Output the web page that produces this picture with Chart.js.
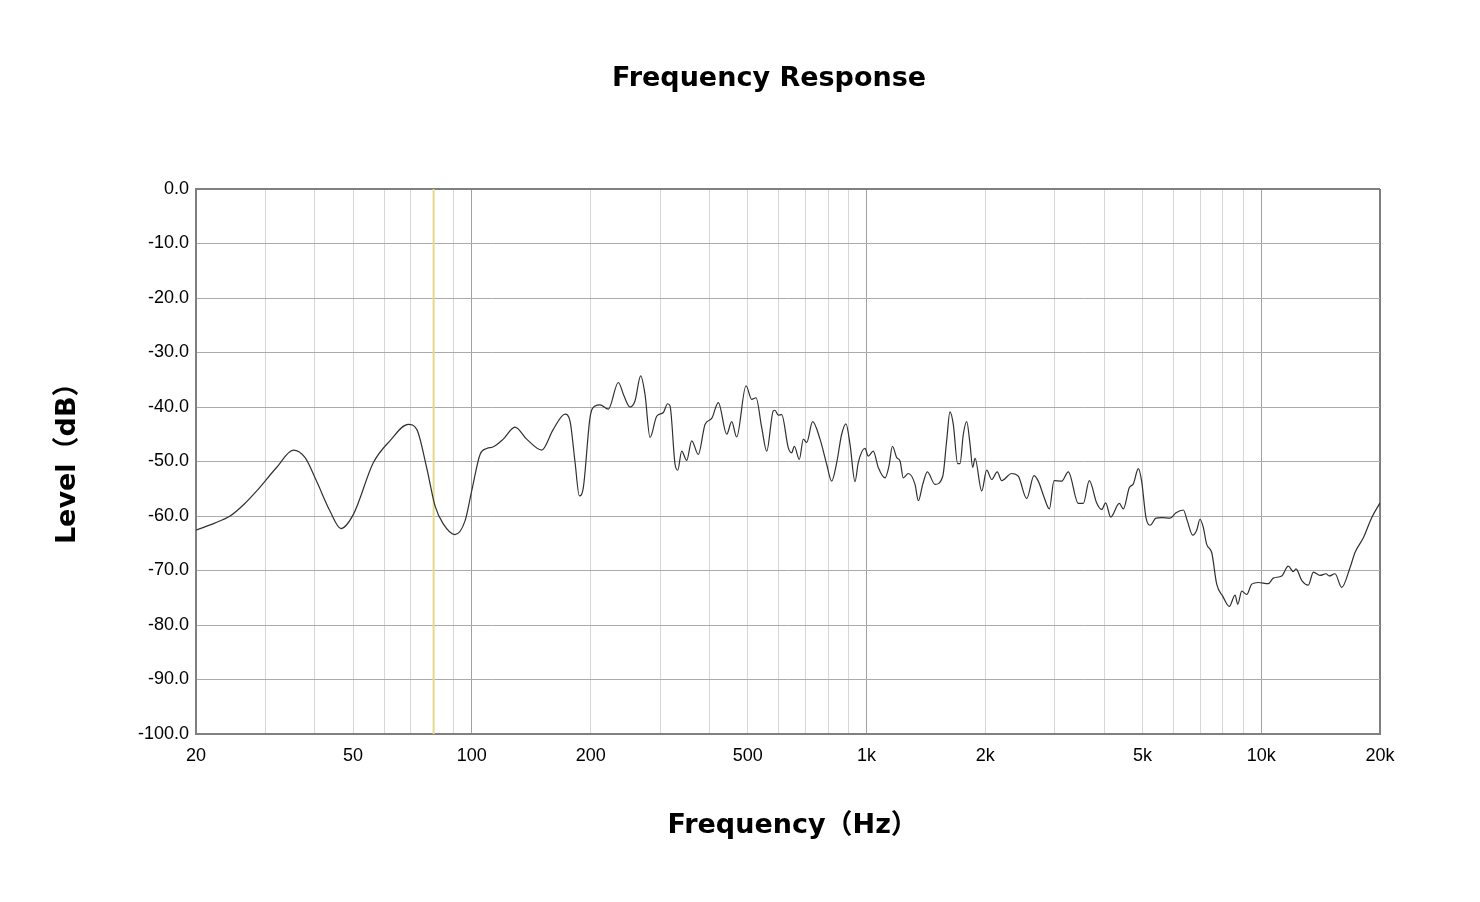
<!DOCTYPE html>
<html>
<head>
<meta charset="utf-8">
<script src="https://cdn.jsdelivr.net/npm/chart.js@4/dist/chart.umd.min.js"></script>
<style>
  html, body { margin: 0; padding: 0; background: #fff; }
  #grafico { display: block; }
</style>
</head>
<body>
<canvas id="grafico" width="1480" height="902"></canvas>
<script>
// valores (Hz / dB)
const freqs = [
  20, 22.3, 24.4, 26.6, 28.5, 32.0, 35.3, 37.8, 40.4, 43.7,
  46.6, 50.1, 56.3, 62.0, 69.0, 72.5, 76.8, 80.7, 84.7, 90.6,
  96.1, 99.9, 104.9, 109.1, 113.4, 120.1, 128.6, 137.7, 150.3, 160.8,
  172.2, 177.3, 182.5, 187.2, 191.6, 199.2, 205.2, 211.3, 221.7, 235,
  243, 251.6, 259, 267.8, 274.6, 282.8, 294, 305.6, 313.4, 317.8,
  327.2, 332.4, 340.2, 350.2, 360.6, 374.8, 389.8, 405.2, 421.2, 442.4,
  455.4, 468.8, 495, 511.8, 524.8, 542.6, 558.6, 580.4, 586, 597.8,
  609.6, 633.6, 646.2, 656.2, 675.6, 691.6, 705.4, 730, 762.4, 792.6,
  816, 840.4, 865, 887, 908, 935, 953, 991, 1010, 1040,
  1071, 1114, 1140, 1163, 1193, 1216, 1239, 1276, 1327, 1353,
  1388, 1426, 1491, 1560, 1596, 1627, 1659, 1702, 1725, 1759,
  1794, 1829, 1858, 1883, 1958, 2016, 2076, 2144, 2200, 2332,
  2424, 2546, 2656, 2724, 2816, 2906, 2986, 3122, 3246, 3440,
  3542, 3668, 3830, 3944, 4036, 4156, 4370, 4474, 4632, 4742,
  4884, 4978, 5106, 5228, 5412, 5596, 5876, 6084, 6350, 6498,
  6706, 6864, 6998, 7134, 7276, 7492, 7714, 7988, 8302, 8586,
  8722, 8926, 9190, 9464, 9834, 10424, 10730, 11270, 11712, 12060,
  12250, 12666, 13164, 13556, 14094, 14596, 14878, 15382, 15996, 16790,
  17286, 18148, 19052, 20000
];
const niveles = [
  -62.6, -61.3, -60.0, -57.7, -55.4, -51.1, -47.9, -49.3, -53.6, -59.1,
  -62.3, -59.7, -50.2, -46.2, -43.2, -44.1, -51.1, -58.2, -61.5, -63.4,
  -60.9, -55.4, -48.7, -47.6, -47.3, -45.9, -43.7, -45.9, -47.9, -44.1,
  -41.3, -42.6, -50.0, -56.3, -54.8, -42.0, -39.8, -39.6, -40.4, -35.5,
  -38.0, -40.0, -38.9, -34.3, -37.7, -45.6, -41.7, -41.0, -39.4, -39.8,
  -50.5, -51.6, -48.1, -49.8, -46.2, -48.7, -43.2, -42.1, -39.2, -45.0,
  -42.7, -45.5, -36.1, -38.6, -38.3, -43.8, -48.1, -40.7, -40.6, -41.5,
  -41.4, -47.5, -48.4, -47.2, -49.6, -45.9, -46.5, -42.7, -45.9, -50.5,
  -53.6, -50.2, -45.0, -43.1, -46.8, -53.7, -50.2, -47.6, -49.0, -48.1,
  -51.1, -53.0, -50.8, -47.2, -49.3, -49.9, -53.0, -52.2, -54.2, -57.2,
  -54.2, -51.9, -54.2, -52.7, -46.2, -40.9, -43.2, -50.4, -50.4, -45.0,
  -42.7, -46.8, -51.1, -49.4, -55.4, -51.6, -53.3, -51.9, -53.5, -52.2,
  -52.7, -56.8, -52.6, -53.6, -56.5, -58.7, -53.5, -53.6, -51.9, -57.7,
  -57.7, -53.5, -57.6, -58.8, -57.6, -60.2, -57.7, -58.7, -54.8, -54.1,
  -51.3, -53.6, -60.3, -61.7, -60.4, -60.3, -60.4, -59.4, -58.9, -60.9,
  -63.5, -62.6, -60.6, -62.1, -65.2, -66.7, -72.5, -74.7, -76.6, -74.5,
  -76.2, -73.8, -74.4, -72.5, -72.2, -72.4, -71.4, -71.0, -69.2, -70.2,
  -69.7, -71.8, -72.7, -70.3, -70.9, -70.6, -71.0, -70.6, -73.1, -69.5,
  -66.7, -64.0, -60.3, -57.6
];
const marcaHz = 80;
const ticksX = [20, 30, 40, 50, 60, 70, 80, 90, 100, 200, 300, 400, 500, 600, 700, 800, 900,
                1000, 2000, 3000, 4000, 5000, 6000, 7000, 8000, 9000, 10000, 20000];
const etiquetasX = { 20: '20', 50: '50', 100: '100', 200: '200', 500: '500',
                     1000: '1k', 2000: '2k', 5000: '5k', 10000: '10k', 20000: '20k' };

const puntos = freqs.map((f, i) => ({ x: f, y: niveles[i] }));
const fuenteTitulo = '"DejaVu Sans", "Noto Sans CJK JP", sans-serif';

const tituloPlugin = {
  id: 'titulo',
  afterDraw(chart) {
    const c = chart.ctx;
    c.save();
    c.font = 'bold 27px ' + fuenteTitulo;
    c.fillStyle = '#000';
    c.textAlign = 'center';
    c.textBaseline = 'middle';
    c.fillText('Frequency Response', 769, 79);
    c.restore();
  }
};

const ctx = document.getElementById('grafico');
const chart = new Chart(ctx, {
  type: 'line',
  data: {
    datasets: [
      { data: puntos, borderColor: '#303030', borderWidth: 1.2, pointRadius: 0,
        cubicInterpolationMode: 'monotone', fill: false, order: 0 },
      { data: [{ x: marcaHz, y: 0 }, { x: marcaHz, y: -100 }], borderColor: '#e2d98a',
        borderWidth: 2, pointRadius: 0, fill: false, order: 1 }
    ]
  },
  options: {
    responsive: false,
    animation: false,
    events: [],
    layout: { padding: { left: 0, right: 100, top: 189, bottom: 0 } },
    plugins: { legend: { display: false }, tooltip: { enabled: false }, title: { display: false } },
    scales: {
      x: {
        type: 'logarithmic', min: 20, max: 20000,
        afterBuildTicks: s => { s.ticks = ticksX.map(v => ({ value: v })); },
        afterFit: s => { s.height = 168; },
        ticks: {
          autoSkip: false, maxRotation: 0, padding: 11, color: '#000',
          font: { family: '"Liberation Sans", Arial, sans-serif', size: 18 },
          callback: v => etiquetasX[v] || ''
        },
        grid: {
          drawTicks: false,
          color: c => {
            const v = c.tick && c.tick.value;
            if (v === 20000 || v === 20) return '#808080';
            if (v === 100 || v === 1000 || v === 10000) return '#a0a0a0';
            return '#d6d6d6';
          },
          lineWidth: c => (c.tick && c.tick.value === 20000) ? 2 : 1
        },
        border: { color: '#808080', width: 2 },
        title: {
          display: true, text: ' Frequency（Hz）', color: '#000',
          font: { family: fuenteTitulo, size: 27, weight: 'bold' },
          padding: { top: 0, bottom: 60 }
        }
      },
      y: {
        min: -100, max: 0,
        afterFit: s => { s.width = 196; },
        ticks: {
          stepSize: 10, padding: 7, color: '#000',
          font: { family: '"Liberation Sans", Arial, sans-serif', size: 18 },
          callback: v => Number(v).toFixed(1)
        },
        grid: {
          drawTicks: false,
          color: c => (c.tick && c.tick.value === 0) ? '#808080' : '#ababab',
          lineWidth: c => (c.tick && c.tick.value === 0) ? 2 : 1
        },
        border: { color: '#808080', width: 2 },
        title: {
          display: true, text: ' Level（dB）', color: '#000',
          font: { family: fuenteTitulo, size: 27, weight: 'bold' },
          padding: { top: 52, bottom: 0 }
        }
      }
    }
  },
  plugins: [tituloPlugin]
});
</script>
</body>
</html>
